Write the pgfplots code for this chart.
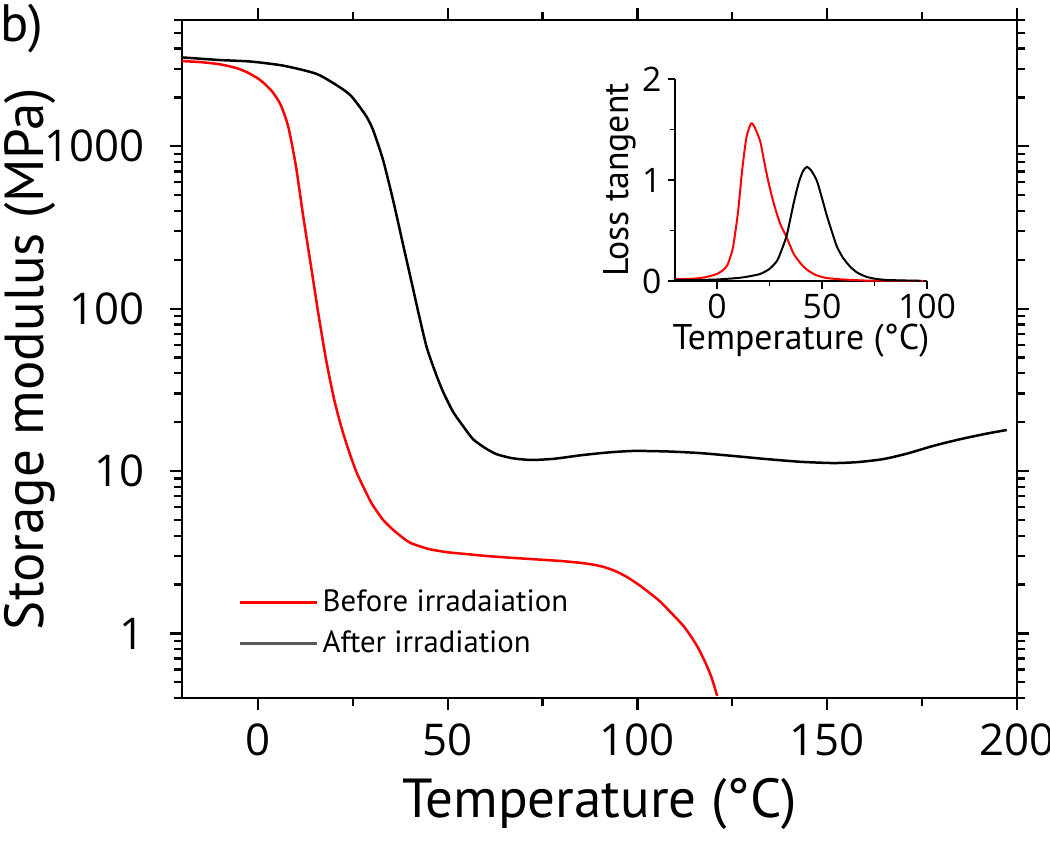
\documentclass[border=0pt]{standalone}
\usepackage{fontspec}
\setmainfont{PT Sans}
\newfontfamily\numfont{Open Sans}
\usepackage{pgfplots}
\pgfplotsset{compat=1.18}
\begin{document}
\begin{tikzpicture}[x=1pt,y=1pt]
\useasboundingbox (-72.8,-64) rectangle (347.2,279.2);
\node[anchor=base west, inner sep=0pt, font=\fontsize{21}{24}\selectfont] at (-72.8,262.4) {b)};
\begin{axis}[
  at={(0pt,0pt)}, anchor=south west, scale only axis,
  width=334pt, height=271.2pt,
  xmin=-20, xmax=200, ymode=log, ymin=0.4, ymax=6000,
  axis line style={line width=1pt},
  tick align=outside, tick pos=both,
  major tick length=4.8pt, minor tick length=3.2pt,
  every tick/.style={black, line width=0.9pt},
  xtick={0,50,100,150,200}, xticklabels={0,50,100,150,200},
  minor xtick={25,75,125,175},
  ytick={1,10,100,1000}, yticklabels={1,10,100,1000},
  minor ytick={0.4,0.5,0.6,0.7,0.8,0.9,2,3,4,5,6,7,8,9,20,30,40,50,60,70,80,90,200,300,400,500,600,700,800,900,2000,3000,4000,5000,6000},
  /pgf/number format/assume math mode=true,
  ticklabel style={font=\numfont\fontsize{17.5}{20}\selectfont},
  xticklabel style={anchor=center, inner sep=0pt, yshift=-12pt},
  yticklabel style={anchor=east, inner sep=0pt, xshift=-10pt},
  xlabel={Temperature (°C)}, ylabel={Storage modulus (MPa)},
  label style={font=\fontsize{22}{25}\selectfont},
  xlabel style={at={(axis description cs:0.5,-0.157)}, anchor=center},
  ylabel style={at={(axis description cs:-0.182,0.5)}, anchor=center},
  legend style={at={(0.067,0.166)}, anchor=north west, draw=none, fill=none,
    inner sep=0pt, row sep=3pt, font=\fontsize{12.3}{14}\selectfont,
    nodes={inner sep=1.5pt}},
  legend cell align=left,
  legend image code/.code={\draw[#1] (0pt,0pt) -- (31pt,0pt);},
]
\addplot[red, line width=1pt, smooth, tension=0.4] coordinates {
(-20,3350) (-15,3300) (-10,3200) (-6,3050) (-3,2870) (0,2620) (2,2400) (4,2140) (6,1800)
(8,1320) (10,760) (12,363) (14,182) (16,91) (18,48) (20,28.2) (22,18.6) (24,13.2)
(26,9.8) (28,7.8) (30,6.3) (33,5.0) (36,4.27) (40,3.63) (45,3.31) (50,3.16) (55,3.08)
(60,3.0) (67,2.92) (73,2.86) (80,2.79) (85,2.72) (88,2.66) (91,2.57) (94,2.43) (97,2.24)
(100,2.02) (103,1.79) (106,1.57) (109,1.33) (112,1.12) (114,0.966) (116,0.813) (118,0.653)
(119.5,0.537) (121,0.412)
};
\addlegendentry{Before irradaiation}
\addplot[black, line width=1pt, smooth, tension=0.4, legend image post style={draw=black!65, line width=1.2pt}] coordinates {
(-20,3530) (-10,3400) (-2,3330) (6.7,3140) (15.5,2790) (21.6,2310) (24.5,2050) (26.9,1740)
(28.8,1500) (30.4,1250) (33,820) (35.7,457) (38.3,245) (40.9,132) (42.5,90) (44.5,57.5)
(47.1,38.5) (49,30) (51.5,23) (54,19) (56.7,15.7) (60,13.8) (62.9,12.7) (67,12.0)
(72,11.7) (78,11.9) (85,12.5) (92,13.0) (99,13.3) (108,13.2) (116.5,12.9) (125,12.4)
(134,11.85) (143,11.4) (151.6,11.2) (158,11.35) (164.8,11.85) (171,12.8) (178,14.3)
(185,15.7) (192,17.0) (197.3,17.9)
};
\addlegendentry{After irradiation}
\end{axis}
\begin{axis}[
  at={(197.2pt,166.8pt)}, anchor=south west, scale only axis,
  width=100.8pt, height=80.8pt,
  xmin=-20, xmax=100, ymin=0, ymax=2,
  axis x line*=bottom, axis y line*=left,
  axis line style={-, line width=0.8pt},
  tick align=outside,
  major tick length=3pt, minor tick length=2pt,
  every tick/.style={black, line width=0.7pt},
  xtick={0,50,100}, xticklabels={0,50,100}, minor xtick={25,75},
  ytick={0,1,2}, yticklabels={0,1,2}, minor ytick={0.5,1.5},
  /pgf/number format/assume math mode=true,
  ticklabel style={font=\numfont\fontsize{13.5}{16}\selectfont},
  xticklabel style={anchor=center, inner sep=0pt, yshift=-7.2pt},
  yticklabel style={anchor=east, inner sep=0pt, xshift=-2.2pt},
  xlabel={Temperature (°C)}, ylabel={Loss tangent},
  label style={font=\fontsize{14.3}{16}\selectfont},
  xlabel style={at={(axis description cs:0.5,-0.297)}, anchor=center},
  ylabel style={at={(axis description cs:-0.218,0.5)}, anchor=center},
  clip=false,
]
\addplot[red, line width=0.8pt, smooth, tension=0.4] coordinates {
(-20,0.02) (-15,0.02) (-10,0.025) (-5,0.04) (0,0.07) (3,0.11) (5,0.16) (7,0.28) (8,0.38)
(10,0.68) (12,1.10) (14,1.42) (16.2,1.56) (18,1.52) (20.6,1.38) (22.5,1.18) (24.6,0.97)
(27,0.77) (30,0.57) (33,0.44) (36.5,0.27) (40,0.17) (43,0.11) (47,0.06) (52,0.03)
(60,0.015) (65,0.01) (70,0.005) (80,0.003) (98,0.002)
};
\addplot[black, line width=0.8pt, smooth, tension=0.4] coordinates {
(-20,0.01) (-10,0.01) (0,0.015) (10,0.03) (15,0.045) (20.6,0.07) (25,0.12) (28.6,0.2)
(31,0.32) (33.3,0.46) (36.5,0.77) (39,0.98) (41,1.09) (42.9,1.13) (45,1.09) (47.6,0.99)
(50,0.82) (52.4,0.64) (55,0.47) (57.1,0.34) (60,0.23) (63.5,0.14) (67,0.08) (71.4,0.04)
(76,0.02) (81,0.01) (90,0.005) (97,0.002)
};
\end{axis}
\end{tikzpicture}
\end{document}
